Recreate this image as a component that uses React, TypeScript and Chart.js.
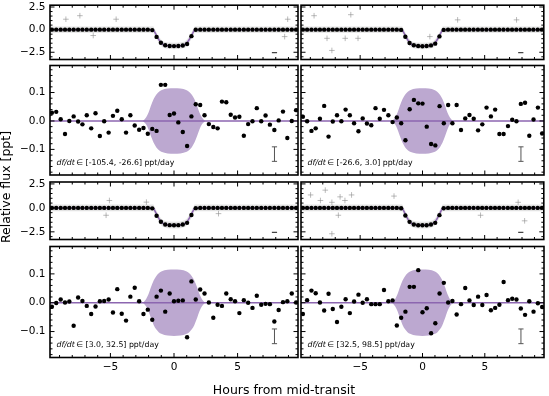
import React, { useEffect, useRef } from 'react';
import { Chart, registerables } from 'chart.js';
Chart.register(...registerables);

const W = 549;
const H = 396;
const FONT = '"DejaVu Sans", sans-serif';

// ---------- data ----------
const binTimes = [-9.6, -9.26, -8.91, -8.57, -8.23, -7.89, -7.54, -7.2, -6.86, -6.51, -6.17, -5.83, -5.49, -5.14, -4.8, -4.46, -4.11, -3.77, -3.43, -3.09, -2.74, -2.4, -2.06, -1.71, -1.37, -1.03, -0.69, -0.34, 0, 0.34, 0.69, 1.03, 1.37, 1.71, 2.06, 2.4, 2.74, 3.09, 3.43, 3.77, 4.11, 4.46, 4.8, 5.14, 5.49, 5.83, 6.17, 6.51, 6.86, 7.2, 7.54, 7.89, 8.23, 8.57, 8.91, 9.26, 9.6];

const fluxTL = [0, 0, 0, 0, 0, 0, 0, 0, 0, 0, 0, 0, 0, 0, 0, 0, 0, 0, 0, 0, 0, 0, 0, -0.05, -0.8, -1.45, -1.72, -1.8, -1.82, -1.8, -1.75, -1.58, -0.72, -0.02, 0, 0, 0, 0, 0, 0, 0, 0, 0, 0, 0, 0, 0, 0, 0, 0, 0, 0, 0, 0, 0, 0, 0];
const fluxTR = [0, 0, 0, 0, 0, 0, 0, 0, 0, 0, 0, 0, 0, 0, 0, 0, 0, 0, 0, 0, 0, 0, 0, -0.03, -0.78, -1.47, -1.73, -1.8, -1.83, -1.81, -1.74, -1.55, -0.75, -0.03, 0, 0, 0, 0, 0, 0, 0, 0, 0, 0, 0, 0, 0, 0, 0, 0, 0, 0, 0, 0, 0, 0, 0];
const fluxBL = [0, 0, 0, 0, 0, 0, 0, 0, 0, 0, 0, 0, 0, 0, 0, 0, 0, 0, 0, 0, 0, 0, 0, -0.05, -0.82, -1.45, -1.74, -1.8, -1.82, -1.8, -1.74, -1.56, -0.74, -0.03, 0, 0, 0, 0, 0, 0, 0, 0, 0, 0, 0, 0, 0, 0, 0, 0, 0, 0, 0, 0, 0, 0, 0];
const fluxBR = [0, 0, 0, 0, 0, 0, 0, 0, 0, 0, 0, 0, 0, 0, 0, 0, 0, 0, 0, 0, 0, 0, 0, -0.04, -0.8, -1.46, -1.73, -1.81, -1.82, -1.81, -1.73, -1.56, -0.76, -0.04, 0, 0, 0, 0, 0, 0, 0, 0, 0, 0, 0, 0, 0, 0, 0, 0, 0, 0, 0, 0, 0, 0, 0];

const residTL = [0.029, 0.032, 0.006, -0.046, 0.0, 0.016, -0.002, -0.012, 0.02, -0.026, 0.027, -0.053, -0.001, -0.041, 0.018, 0.036, 0.006, -0.041, 0.02, -0.016, -0.031, -0.025, -0.045, -0.028, -0.035, 0.127, 0.127, 0.021, 0.026, -0.005, -0.039, -0.088, 0.016, 0.059, 0.056, 0.02, -0.011, -0.021, -0.026, 0.068, 0.066, 0.022, 0.012, 0.015, -0.052, -0.011, -0.001, 0.045, -0.001, 0.019, -0.013, -0.032, 0.002, 0.033, -0.06, 0.0, 0.038];
const residTR = [0.015, -0.001, -0.035, -0.026, 0.008, 0.053, -0.055, -0.002, 0.02, -0.001, 0.04, 0.02, -0.008, -0.036, 0.009, -0.009, -0.015, 0.045, 0.008, 0.039, 0.02, -0.004, 0.012, -0.008, -0.068, 0.041, 0.074, 0.062, 0.061, -0.02, -0.081, -0.086, 0.052, -0.008, 0.056, -0.008, 0.056, -0.032, 0.009, 0.021, 0.008, -0.033, -0.012, 0.047, 0.016, 0.04, -0.046, -0.046, -0.018, 0.004, -0.001, 0.06, 0.064, -0.052, 0.005, 0.047, -0.044];
const residBL = [-0.014, -0.001, 0.011, 0.001, 0.004, -0.08, 0.018, 0.006, -0.011, -0.039, -0.013, 0.005, 0.006, 0.011, -0.034, 0.047, -0.038, -0.062, 0.021, 0.052, 0.005, -0.039, -0.024, -0.059, 0.021, 0.042, -0.031, 0.032, 0.005, 0.007, 0.008, -0.12, 0.074, 0.011, 0.046, 0.032, 0.001, -0.052, -0.007, -0.011, 0.032, 0.012, 0.005, -0.036, 0.009, 0.0, -0.018, 0.024, -0.007, -0.004, -0.005, -0.065, -0.025, 0.002, 0.005, 0.032, 0.001];
const residBR = [-0.039, 0.009, 0.042, 0.033, 0.001, -0.027, 0.031, -0.022, -0.067, -0.014, 0.012, -0.036, 0.004, 0.028, 0.0, 0.012, -0.005, -0.005, -0.005, 0.044, 0.005, 0.008, -0.079, -0.052, -0.031, 0.055, 0.055, 0.113, -0.033, -0.019, -0.106, -0.071, 0.032, 0.069, 0.001, 0.006, -0.041, -0.005, 0.051, 0.008, -0.008, 0.021, -0.008, 0.027, -0.026, -0.018, -0.007, 0.072, 0.009, 0.014, 0.011, -0.02, -0.042, 0.005, -0.031, -0.002, -0.015];

// raw-data outliers (gray)
const outTLx = [-8.5, -7.4, -6.35, -4.55, 8.94, 8.7];
const outTLy = [1.15, 1.54, -0.65, 1.15, 1.15, -0.77];
const outTRx = [-8.7, -5.75, -7.27, -7.66, -6.2, -5.17, 2.83, 7.56, 0.6];
const outTRy = [1.54, 1.65, -2.3, -0.96, -0.96, -0.96, 1.08, 1.08, -0.77];
const outBLx = [-5.08, -5.34, -2.17, 3.5];
const outBLy = [0.77, -0.77, 0.6, -0.6];
const outBRx = [-8.98, -8.19, -7.8, -7.27, -7.27, -6.61, -6.22, -5.69, -6.75, -2.28, 4.67, 8.21, 7.69];
const outBRy = [1.35, 0.77, 1.85, -2.7, 0.58, 1.15, 0.77, 1.35, -0.77, 1.23, -0.77, -1.35, 0.58];

// transit model and raw-data scatter band
const modelX = [-9.75, -1.62, -1.45, -1.3, -1.15, -1.0, -0.85, -0.5, 0, 0.5, 0.85, 1.0, 1.15, 1.3, 1.45, 1.62, 9.75];
const modelY = [0, 0, -0.45, -0.85, -1.2, -1.48, -1.65, -1.77, -1.81, -1.77, -1.65, -1.48, -1.2, -0.85, -0.45, 0, 0];
const bandUpper = [0.35, 0.35, -0.1, -0.5, -0.85, -1.13, -1.3, -1.42, -1.46, -1.42, -1.3, -1.13, -0.85, -0.5, -0.1, 0.35, 0.35];
const bandLower = [-0.35, -0.35, -0.8, -1.2, -1.55, -1.83, -2.0, -2.12, -2.16, -2.12, -2.0, -1.83, -1.55, -1.2, -0.8, -0.35, -0.35];

// residual uncertainty envelope
const envX = [-2.45, -2.2, -2.0, -1.8, -1.6, -1.4, -1.2, -1.0, -0.5, 0, 0.5, 1.0, 1.2, 1.4, 1.6, 1.8, 2.0, 2.2, 2.45];
const envTop = [0, 0.012, 0.03, 0.055, 0.077, 0.092, 0.102, 0.108, 0.114, 0.115, 0.114, 0.108, 0.102, 0.092, 0.077, 0.055, 0.03, 0.012, 0];
const envBottom = [0, -0.012, -0.03, -0.055, -0.077, -0.092, -0.102, -0.108, -0.114, -0.115, -0.114, -0.108, -0.102, -0.092, -0.077, -0.055, -0.03, -0.012, 0];

// typical error bars
const errX = 7.9;
const fluxErrY = -2.55;
const residErrY = [-0.142, -0.091];

// axes
const xRange = [-9.75, 9.75];
const fluxRange = [-3.3, 2.7];
const residRange = [-0.19, 0.195];
const xMajorTicks = [-5, 0, 5];
const xMinorTicks = [-9, -8, -7, -6, -4, -3, -2, -1, 1, 2, 3, 4, 6, 7, 8, 9];
const fluxMajorTicks = [-2.5, 0, 2.5];
const fluxMinorTicks = [-3, -2, -1.5, -1, -0.5, 0.5, 1, 1.5, 2];
const residMajorTicks = [-0.1, 0, 0.1];
const residMinorTicks = [-0.18, -0.16, -0.14, -0.12, -0.08, -0.06, -0.04, -0.02, 0.02, 0.04, 0.06, 0.08, 0.12, 0.14, 0.16, 0.18];

const rangeLabels = ['[-105.4, -26.6]', '[-26.6, 3.0]', '[3.0, 32.5]', '[32.5, 98.5]'];

// ---------- styles ----------
const PURPLE = 'rgb(140, 102, 176)';
const PURPLE_FILL = 'rgba(122, 82, 162, 0.5)';

const COLS = [{ l: 50, r: 298 }, { l: 301, r: 548 }];
const ROWS = [{ t: 4, b: 59.5 }, { t: 65.5, b: 175 }, { t: 182, b: 239.5 }, { t: 246.5, b: 357.5 }];
const Y_BOX = 44;
const X_BOX = 20;

const minus = (s: string) => s.replace('-', '\u2212');

const framePlugin = {
  id: 'frame',
  afterDatasetsDraw(chart: any, _args: any, opts: any) {
    const { ctx, chartArea } = chart;
    const { left, right, top, bottom } = chartArea;
    const xs = chart.scales.x;
    const ys = chart.scales.y;
    ctx.save();
    ctx.strokeStyle = '#000';
    ctx.lineWidth = 1;
    const seg = (x1: number, y1: number, x2: number, y2: number) => {
      ctx.beginPath();
      ctx.moveTo(x1, y1);
      ctx.lineTo(x2, y2);
      ctx.stroke();
    };
    const drawX = (vals: number[], len: number) =>
      (vals || []).forEach((v) => {
        const p = xs.getPixelForValue(v);
        seg(p, bottom, p, bottom - len);
        seg(p, top, p, top + len);
      });
    const drawY = (vals: number[], len: number) =>
      (vals || []).forEach((v) => {
        const p = ys.getPixelForValue(v);
        if (p < top - 0.5 || p > bottom + 0.5) return;
        seg(left, p, left + len, p);
        seg(right, p, right - len, p);
      });
    drawX(opts.xMajor, 4.5);
    drawX(opts.xMinor, 2.5);
    drawY(opts.yMajor, 4.5);
    drawY(opts.yMinor, 2.5);
    ctx.lineWidth = 1.6;
    ctx.strokeRect(left, top, right - left, bottom - top);
    if (opts.label) {
      ctx.fillStyle = '#000';
      ctx.textBaseline = 'middle';
      ctx.textAlign = 'left';
      let x = left + 6.5;
      const y = bottom - 12.5;
      ctx.font = `italic 7.8px ${FONT}`;
      ctx.fillText('df/dt', x, y);
      x += ctx.measureText('df/dt').width + 1.5;
      ctx.font = `7.8px ${FONT}`;
      ctx.fillText('\u2208 ' + opts.label + ' ppt/day', x, y);
    }
    ctx.restore();
  },
};

type PanelCfg = {
  kind: 'flux' | 'resid';
  col: number;
  row: number;
  values: number[];
  outX?: number[];
  outY?: number[];
  label?: string;
};

const zeroPad = (s: any) => {
  s.paddingTop = 0;
  s.paddingBottom = 0;
  s.paddingLeft = 0;
  s.paddingRight = 0;
};

function buildConfig(cfg: PanelCfg): any {
  const col = COLS[cfg.col];
  const row = ROWS[cfg.row];
  const isFlux = cfg.kind === 'flux';
  const showX = cfg.row === 3;
  const showY = cfg.col === 0;
  const pts = binTimes.map((x, i) => ({ x, y: cfg.values[i] }));
  const datasets: any[] = [];
  if (isFlux) {
    datasets.push({
      type: 'line', data: modelX.map((x, i) => ({ x, y: bandLower[i] })),
      borderWidth: 0, pointRadius: 0, fill: false, order: 10,
    });
    datasets.push({
      type: 'line', data: modelX.map((x, i) => ({ x, y: bandUpper[i] })),
      borderWidth: 0, pointRadius: 0, fill: '-1', backgroundColor: 'rgba(0,0,0,0.11)', order: 9,
    });
    datasets.push({
      type: 'scatter', data: (cfg.outX || []).map((x, i) => ({ x, y: (cfg.outY || [])[i] })),
      pointStyle: 'cross', pointRadius: 2.8, borderColor: 'rgba(140,140,140,0.6)', borderWidth: 1, order: 8,
    });
    datasets.push({
      type: 'line', data: modelX.map((x, i) => ({ x, y: modelY[i] })),
      borderColor: PURPLE, borderWidth: 1.5, pointRadius: 0, fill: false, order: 5,
    });
    datasets.push({
      type: 'scatter', data: [{ x: errX, y: fluxErrY }],
      pointStyle: 'line', pointRadius: 2.6, borderColor: '#444', borderWidth: 1.2, order: 4,
    });
  } else {
    datasets.push({
      type: 'line', data: envX.map((x, i) => ({ x, y: envBottom[i] })),
      borderWidth: 0, pointRadius: 0, fill: false, cubicInterpolationMode: 'monotone', order: 10,
    });
    datasets.push({
      type: 'line', data: envX.map((x, i) => ({ x, y: envTop[i] })),
      borderWidth: 0, pointRadius: 0, fill: '-1', backgroundColor: PURPLE_FILL,
      cubicInterpolationMode: 'monotone', order: 9,
    });
    datasets.push({
      type: 'line', data: [{ x: xRange[0], y: 0 }, { x: xRange[1], y: 0 }],
      borderColor: PURPLE, borderWidth: 1.5, pointRadius: 0, fill: false, order: 6,
    });
    datasets.push({
      type: 'line', data: residErrY.map((y) => ({ x: errX, y })),
      borderColor: '#555', borderWidth: 1, pointRadius: 0, fill: false, order: 5,
    });
    datasets.push({
      type: 'scatter', data: residErrY.map((y) => ({ x: errX, y })),
      pointStyle: 'line', pointRadius: 2.6, borderColor: '#555', borderWidth: 1, order: 4,
    });
  }
  datasets.push({
    type: 'scatter', data: pts, pointRadius: 2.2, pointBackgroundColor: '#000',
    pointBorderWidth: 0, borderWidth: 0, order: 1,
  });

  const yTicks = isFlux ? fluxMajorTicks : residMajorTicks;
  return {
    type: 'scatter',
    data: { datasets },
    plugins: [framePlugin],
    options: {
      responsive: false,
      animation: false,
      devicePixelRatio: 1,
      events: [],
      layout: {
        padding: { left: col.l - Y_BOX, right: W - col.r, top: row.t, bottom: H - row.b - X_BOX },
      },
      plugins: {
        legend: { display: false },
        tooltip: { enabled: false },
        frame: {
          xMajor: xMajorTicks, xMinor: xMinorTicks,
          yMajor: yTicks, yMinor: isFlux ? fluxMinorTicks : residMinorTicks,
          label: cfg.label,
        },
      },
      scales: {
        x: {
          type: 'linear', min: xRange[0], max: xRange[1],
          grid: { display: false, drawTicks: false }, border: { display: false },
          ticks: {
            display: showX, padding: 3, color: '#000', font: { family: FONT, size: 10.5 },
            callback: (v: number) => minus(String(v)),
          },
          afterBuildTicks: (s: any) => { s.ticks = xMajorTicks.map((value) => ({ value })); },
          afterFit: (s: any) => { s.height = X_BOX; zeroPad(s); },
        },
        y: {
          type: 'linear',
          min: isFlux ? fluxRange[0] : residRange[0],
          max: isFlux ? fluxRange[1] : residRange[1],
          grid: { display: false, drawTicks: false }, border: { display: false },
          ticks: {
            display: showY, padding: 4.5, color: '#000', font: { family: FONT, size: 10.5 },
            callback: (v: number) => minus(Number(v).toFixed(1)),
          },
          afterBuildTicks: (s: any) => { s.ticks = yTicks.map((value) => ({ value })); },
          afterFit: (s: any) => { s.width = Y_BOX; zeroPad(s); },
        },
      },
    },
  };
}

const PANELS: PanelCfg[] = [
  { kind: 'flux', col: 0, row: 0, values: fluxTL, outX: outTLx, outY: outTLy },
  { kind: 'resid', col: 0, row: 1, values: residTL, label: rangeLabels[0] },
  { kind: 'flux', col: 1, row: 0, values: fluxTR, outX: outTRx, outY: outTRy },
  { kind: 'resid', col: 1, row: 1, values: residTR, label: rangeLabels[1] },
  { kind: 'flux', col: 0, row: 2, values: fluxBL, outX: outBLx, outY: outBLy },
  { kind: 'resid', col: 0, row: 3, values: residBL, label: rangeLabels[2] },
  { kind: 'flux', col: 1, row: 2, values: fluxBR, outX: outBRx, outY: outBRy },
  { kind: 'resid', col: 1, row: 3, values: residBR, label: rangeLabels[3] },
];

function Panel({ cfg }: { cfg: PanelCfg }) {
  const ref = useRef<HTMLCanvasElement>(null);
  useEffect(() => {
    const chart = new Chart(ref.current as HTMLCanvasElement, buildConfig(cfg));
    return () => chart.destroy();
  }, [cfg]);
  return (
    <canvas
      ref={ref}
      width={W}
      height={H}
      style={{ position: 'absolute', left: 0, top: 0, width: W, height: H }}
    />
  );
}

export default function App() {
  return (
    <div
      style={{
        position: 'fixed', left: 0, top: 0, width: W, height: H,
        background: '#fff', overflow: 'hidden', fontFamily: FONT,
      }}
    >
      {PANELS.map((p, i) => (
        <Panel key={i} cfg={p} />
      ))}
      <div
        style={{
          position: 'absolute', left: 284 - 150, top: 382, width: 300, height: 16,
          lineHeight: '16px', fontSize: '12.5px', textAlign: 'center', color: '#000',
        }}
      >
        Hours from mid-transit
      </div>
      <div
        style={{
          position: 'absolute', left: 6 - 100, top: 187 - 8, width: 200, height: 16,
          lineHeight: '16px', fontSize: '12.5px', textAlign: 'center', color: '#000',
          transform: 'rotate(-90deg)',
        }}
      >
        Relative flux [ppt]
      </div>
    </div>
  );
}
